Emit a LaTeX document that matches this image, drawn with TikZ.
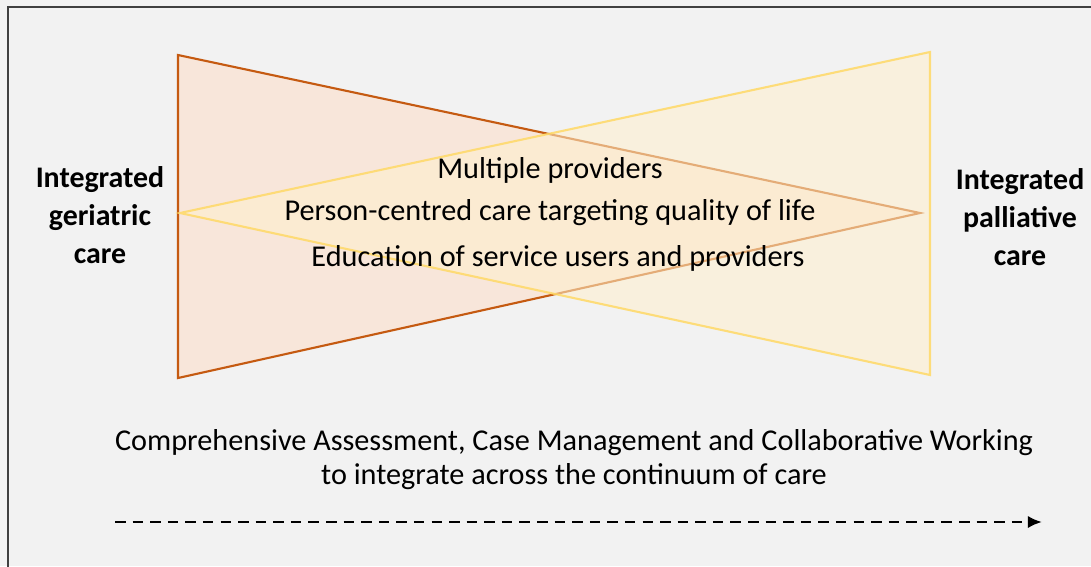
\documentclass[tikz,border=0pt]{standalone}
\usepackage{fontspec}
\usetikzlibrary{arrows.meta}
\setmainfont{Carlito}
\definecolor{bgGray}{HTML}{F2F2F2}
\definecolor{geriLine}{HTML}{C55A11}
\definecolor{geriFill}{HTML}{FBE3D3}
\definecolor{pallLine}{HTML}{FFD966}
\definecolor{pallFill}{HTML}{FFF0CC}
\tikzset{
  side/.style={font=\fontsize{8.5}{10.8}\selectfont\bfseries, align=center, inner sep=0pt},
  mid/.style={font=\fontsize{8.6}{9.7}\selectfont, inner sep=0pt},
}
\begin{document}
\begin{tikzpicture}[x=0.01cm, y=-0.01cm]
    \useasboundingbox (0,0) rectangle (1091,566);
    \fill [bgGray] (0,0) rectangle (1091,566);
    \draw [black!75, line width=0.6pt] (8,580)--(8,7)--(1100,7);
    % triangles
    \coordinate (gTop) at (178,55);
    \coordinate (gBot) at (178,378);
    \coordinate (gTip) at (920,213);
    \coordinate (pTop) at (930,52);
    \coordinate (pBot) at (930,375);
    \coordinate (pTip) at (180,213);
    \filldraw [draw=geriLine, fill=geriFill, fill opacity=0.75, line width=0.6pt] (gTop)--(gBot)--(gTip)--cycle;
    \filldraw [draw=pallLine, fill=pallFill, fill opacity=0.55, draw opacity=0.85, line width=0.6pt] (pTop)--(pBot)--(pTip)--cycle;
    % labels
    \node [side] (geri) at (100,215) {Integrated\\geriatric\\care};
    \node [side] (pall) at (1020,217) {Integrated\\palliative\\care};
    \node [mid] (multi) at (550,170) {Multiple providers};
    \node [mid] (person) at (550,213) {Person-centred care targeting quality of life};
    \node [mid] (edu) at (558,258) {Education of service users and providers};
    \node [mid, align=center] (compr) at (574,460) {Comprehensive Assessment, Case Management and Collaborative Working\\to integrate across the continuum of care};
    % continuum arrow
    \coordinate (arrS) at (115,522);
    \coordinate (arrE) at (1042,522);
    \draw [line width=0.75pt, dash pattern=on 3pt off 2pt, -{Latex[length=4pt, width=3.5pt]}] (arrS)--(arrE);
\end{tikzpicture}
\end{document}
